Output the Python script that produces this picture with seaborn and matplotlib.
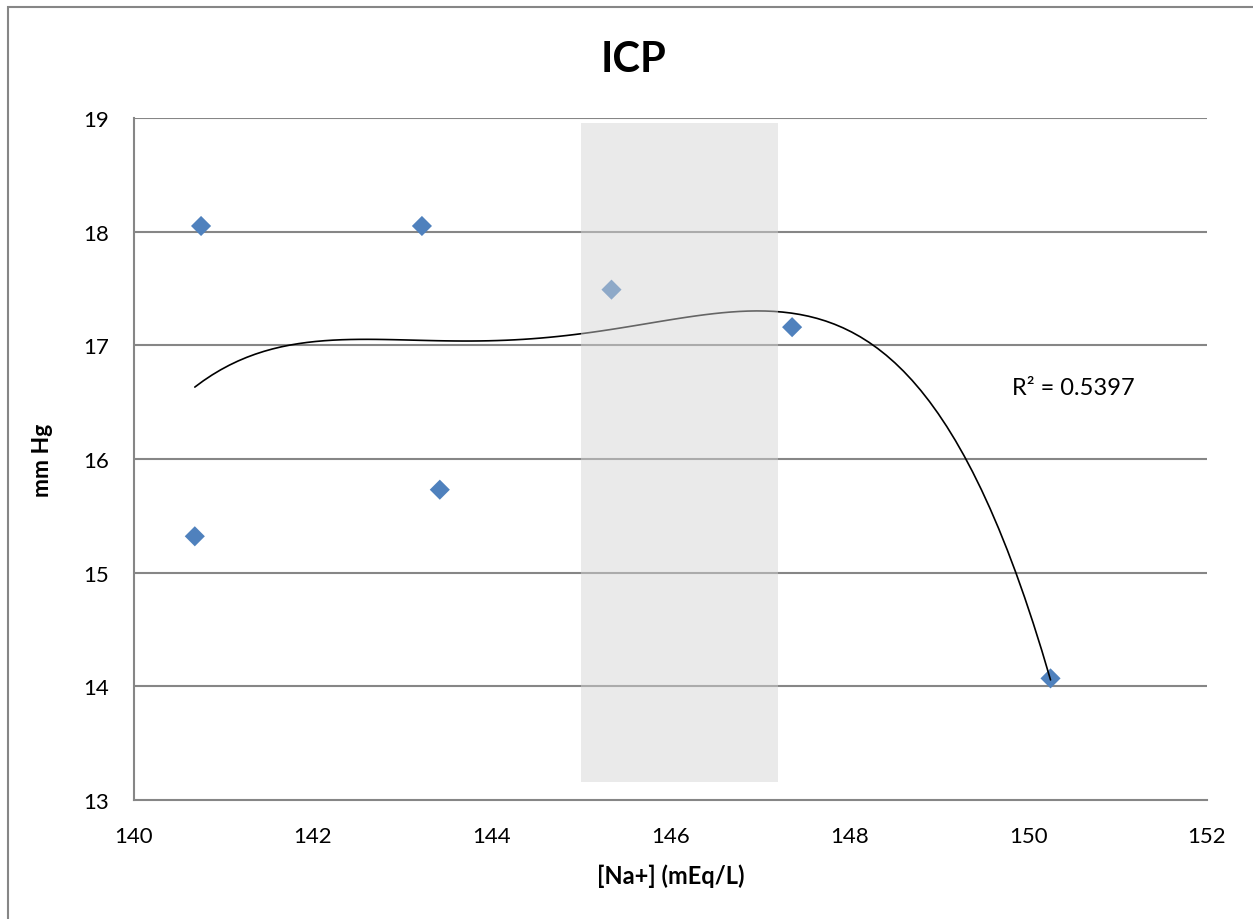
import matplotlib

matplotlib.use("Agg")
import matplotlib.pyplot as plt
import numpy as np
import seaborn as sns
from matplotlib.patches import Rectangle

# readings from the reference chart
na_mEq = [140.75, 143.22, 145.34, 147.36, 140.68, 143.42, 150.25]
icp_mmHg = [18.05, 18.05, 17.49, 17.16, 15.32, 15.73, 14.07]
shade_x = [145.0, 147.2]
shade_y = [13.16, 18.96]
x_ticks = [140, 142, 144, 146, 148, 150, 152]
y_ticks = [13, 14, 15, 16, 17, 18, 19]
r2_label = "R² = 0.5397"

sns.set_theme(style="white", rc={"text.color": "black", "axes.labelcolor": "black",
                                 "xtick.color": "black", "ytick.color": "black"})
plt.rcParams["font.family"] = ["Lato", "DejaVu Sans"]

fig = plt.figure(figsize=(12.53, 9.2), dpi=100)
ax = fig.add_axes([134 / 1253, 119 / 920, 1073 / 1253, 682 / 920])

grid_c = "#868686"
for yv in y_ticks[1:]:
    ax.axhline(yv, color=grid_c, lw=1.5, zorder=1)

sns.scatterplot(x=na_mEq, y=icp_mmHg, marker="D", s=105, color="#4F81BD",
                edgecolor="none", ax=ax, zorder=3)

# 4th order polynomial trendline (R² of the fit ~0.54)
sns.regplot(x=np.array(na_mEq), y=np.array(icp_mmHg), order=4, ci=None,
            scatter=False, ax=ax, line_kws=dict(color="black", lw=1.2, zorder=4))

ax.add_patch(Rectangle((shade_x[0], shade_y[0]), shade_x[1] - shade_x[0],
                       shade_y[1] - shade_y[0], facecolor="#D5D5D5",
                       edgecolor="none", alpha=0.48, zorder=5))

ax.text(149.82, 16.63, r2_label, fontsize=17, ha="left", va="center")

ax.set_xlim(140, 152)
ax.set_ylim(13, 19)
ax.set_xticks(x_ticks)
ax.set_yticks(y_ticks)
ax.tick_params(axis="both", length=0, labelsize=16)
ax.tick_params(axis="x", pad=19)
ax.tick_params(axis="y", pad=18)
for side in ["top", "right"]:
    ax.spines[side].set_visible(False)
for side in ["left", "bottom"]:
    ax.spines[side].set_color(grid_c)
    ax.spines[side].set_linewidth(1.5)

fig.text(633 / 1253, 1 - 60 / 920, "ICP", fontsize=30, fontweight="bold",
         ha="center", va="center")
ax.set_xlabel("[Na+] (mEq/L)", fontsize=17, fontweight="bold", labelpad=12)
ax.set_ylabel("mm Hg", fontsize=16.5, fontweight="bold", labelpad=22)

# outer chart frame
fig.patches.append(Rectangle((8 / 1253, -0.05), 1.2, (920 - 8) / 920 + 0.05,
                             transform=fig.transFigure, facecolor="none",
                             edgecolor=grid_c, lw=1.5))

fig.savefig("out.png", dpi=100)
